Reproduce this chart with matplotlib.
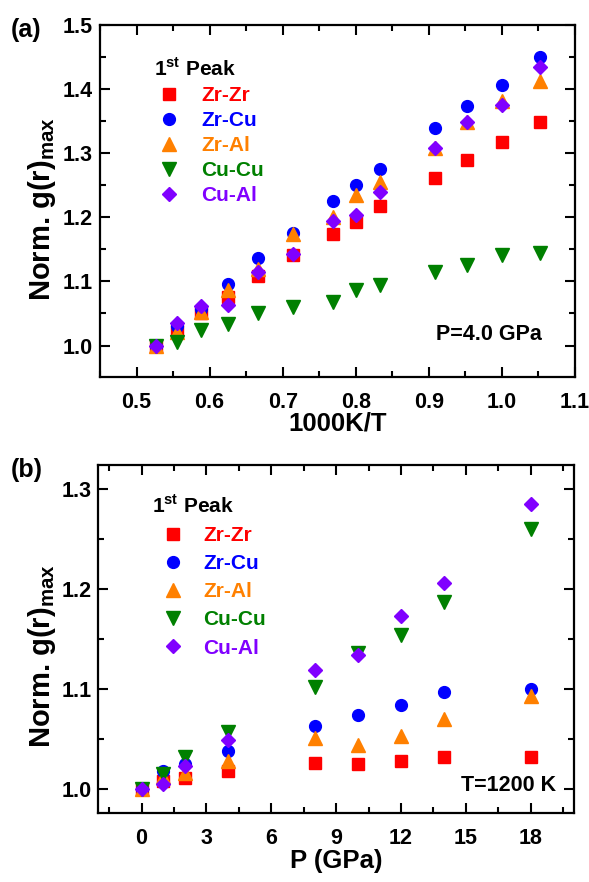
import numpy as np
import matplotlib.pyplot as plt
from matplotlib.ticker import MultipleLocator

plt.rcParams['font.family'] = 'Liberation Sans'
plt.rcParams['font.weight'] = 'bold'
plt.rcParams['mathtext.fontset'] = 'custom'
plt.rcParams['mathtext.rm'] = 'Liberation Sans:bold'
plt.rcParams['mathtext.bf'] = 'Liberation Sans:bold'

# (a) temperature series at P = 4.0 GPa
temps = [1900, 1800, 1700, 1600, 1500, 1400, 1300, 1250, 1200, 1100, 1050, 1000, 950]
zrzr_T = [1.000, 1.022, 1.050, 1.076, 1.108, 1.141, 1.174, 1.193, 1.218, 1.261, 1.290, 1.317, 1.349]
zrcu_T = [1.000, 1.030, 1.057, 1.096, 1.136, 1.176, 1.225, 1.251, 1.275, 1.339, 1.374, 1.407, 1.450]
zral_T = [1.000, 1.021, 1.052, 1.087, 1.120, 1.174, 1.200, 1.235, 1.255, 1.308, 1.349, 1.382, 1.412]
cucu_T = [1.000, 1.005, 1.024, 1.034, 1.050, 1.060, 1.068, 1.087, 1.094, 1.115, 1.125, 1.141, 1.144]
cual_T = [1.000, 1.035, 1.062, 1.064, 1.115, 1.143, 1.195, 1.204, 1.240, 1.308, 1.348, 1.375, 1.435]

# (b) pressure series at T = 1200 K
press = [0, 1, 2, 4, 8, 10, 12, 14, 18]
zrzr_P = [1.000, 1.008, 1.011, 1.018, 1.026, 1.025, 1.028, 1.032, 1.032]
zrcu_P = [1.000, 1.018, 1.025, 1.038, 1.063, 1.074, 1.084, 1.097, 1.100]
zral_P = [1.000, 1.012, 1.016, 1.028, 1.051, 1.044, 1.053, 1.070, 1.093]
cucu_P = [1.000, 1.015, 1.032, 1.057, 1.102, 1.136, 1.154, 1.187, 1.260]
cual_P = [1.000, 1.005, 1.023, 1.049, 1.119, 1.134, 1.173, 1.206, 1.285]

pairs = ['Zr-Zr', 'Zr-Cu', 'Zr-Al', 'Cu-Cu', 'Cu-Al']
colors = ['#FF0000', '#0000FF', '#FF8000', '#008000', '#8000FF']
markers = ['s', 'o', '^', 'v', 'D']
msizes = [8.5, 8.5, 9.5, 9.5, 7]


def style_axes(ax):
    for sp in ax.spines.values():
        sp.set_linewidth(1.6)
    ax.tick_params(which='both', direction='in', top=True, right=True,
                   width=1.5, labelsize=15.5)
    ax.tick_params(which='major', length=7)
    ax.tick_params(which='minor', length=4)
    ax.tick_params(axis='x', which='major', pad=10.5)
    ax.tick_params(axis='y', which='major', pad=5)


def add_legend(ax, anchor, spacing, hlen, hpad):
    ax.legend(loc='upper left', bbox_to_anchor=anchor, frameon=False,
              title='1$^{\\rm st}$ Peak', title_fontproperties={'size': 15, 'weight': 'bold'},
              alignment='left', prop={'size': 15, 'weight': 'bold'},
              labelcolor='markerfacecolor', handlelength=hlen, handletextpad=hpad,
              labelspacing=spacing, borderpad=0, borderaxespad=0)


fig = plt.figure(figsize=(5.89, 8.82), dpi=100)
ax1 = fig.add_axes([0.1698, 0.5726, 0.8064, 0.3991])
ax2 = fig.add_axes([0.1669, 0.0782, 0.8076, 0.3946])

inv_t = 1000.0 / np.array(temps)
for vals, lab, c, m, ms in zip([zrzr_T, zrcu_T, zral_T, cucu_T, cual_T], pairs, colors, markers, msizes):
    ax1.plot(inv_t, vals, ls='none', marker=m, ms=ms, color=c, mec=c, label=lab)
ax1.set_xlim(0.45, 1.1)
ax1.set_ylim(0.951, 1.5)
ax1.xaxis.set_major_locator(MultipleLocator(0.1))
ax1.xaxis.set_minor_locator(MultipleLocator(0.05))
ax1.yaxis.set_major_locator(MultipleLocator(0.1))
ax1.yaxis.set_minor_locator(MultipleLocator(0.05))
ax1.xaxis.set_major_formatter(lambda v, p: '%.1f' % v)
ax1.yaxis.set_major_formatter(lambda v, p: '%.1f' % v)
style_axes(ax1)
ax1.set_xlabel('1000K/T', fontsize=18.5, fontweight='bold', labelpad=-1)
ax1.set_ylabel('Norm. g(r)$_{\\rm max}$', fontsize=21, fontweight='bold')
ax1.yaxis.set_label_coords(-0.088, 0.477)
ax1.text(0.93, 0.12, 'P=4.0 GPa', transform=ax1.transAxes, ha='right', va='center',
         fontsize=15.5, fontweight='bold')
add_legend(ax1, (0.113, 0.908), 0.29, 1.5, 0.8)

for vals, lab, c, m, ms in zip([zrzr_P, zrcu_P, zral_P, cucu_P, cual_P], pairs, colors, markers, msizes):
    ax2.plot(press, vals, ls='none', marker=m, ms=ms, color=c, mec=c, label=lab)
ax2.set_xlim(-2, 20)
ax2.set_ylim(0.976, 1.324)
ax2.xaxis.set_major_locator(MultipleLocator(3))
ax2.xaxis.set_minor_locator(MultipleLocator(1.5))
ax2.yaxis.set_major_locator(MultipleLocator(0.1))
ax2.yaxis.set_minor_locator(MultipleLocator(0.05))
ax2.yaxis.set_major_formatter(lambda v, p: '%.1f' % v)
style_axes(ax2)
ax2.set_xlabel('P (GPa)', fontsize=18.5, fontweight='bold', labelpad=0)
ax2.set_ylabel('Norm. g(r)$_{\\rm max}$', fontsize=21, fontweight='bold')
ax2.yaxis.set_label_coords(-0.085, 0.45)
ax2.text(0.962, 0.08, 'T=1200 K', transform=ax2.transAxes, ha='right', va='center',
         fontsize=15.5, fontweight='bold')
add_legend(ax2, (0.113, 0.916), 0.44, 2.0, 0.46)

fig.text(0.018, 1 - 30 / 882, '(a)', fontsize=18, fontweight='bold', va='center')
fig.text(0.018, 1 - 470 / 882, '(b)', fontsize=18, fontweight='bold', va='center')

fig.savefig('out.png', dpi=100)
